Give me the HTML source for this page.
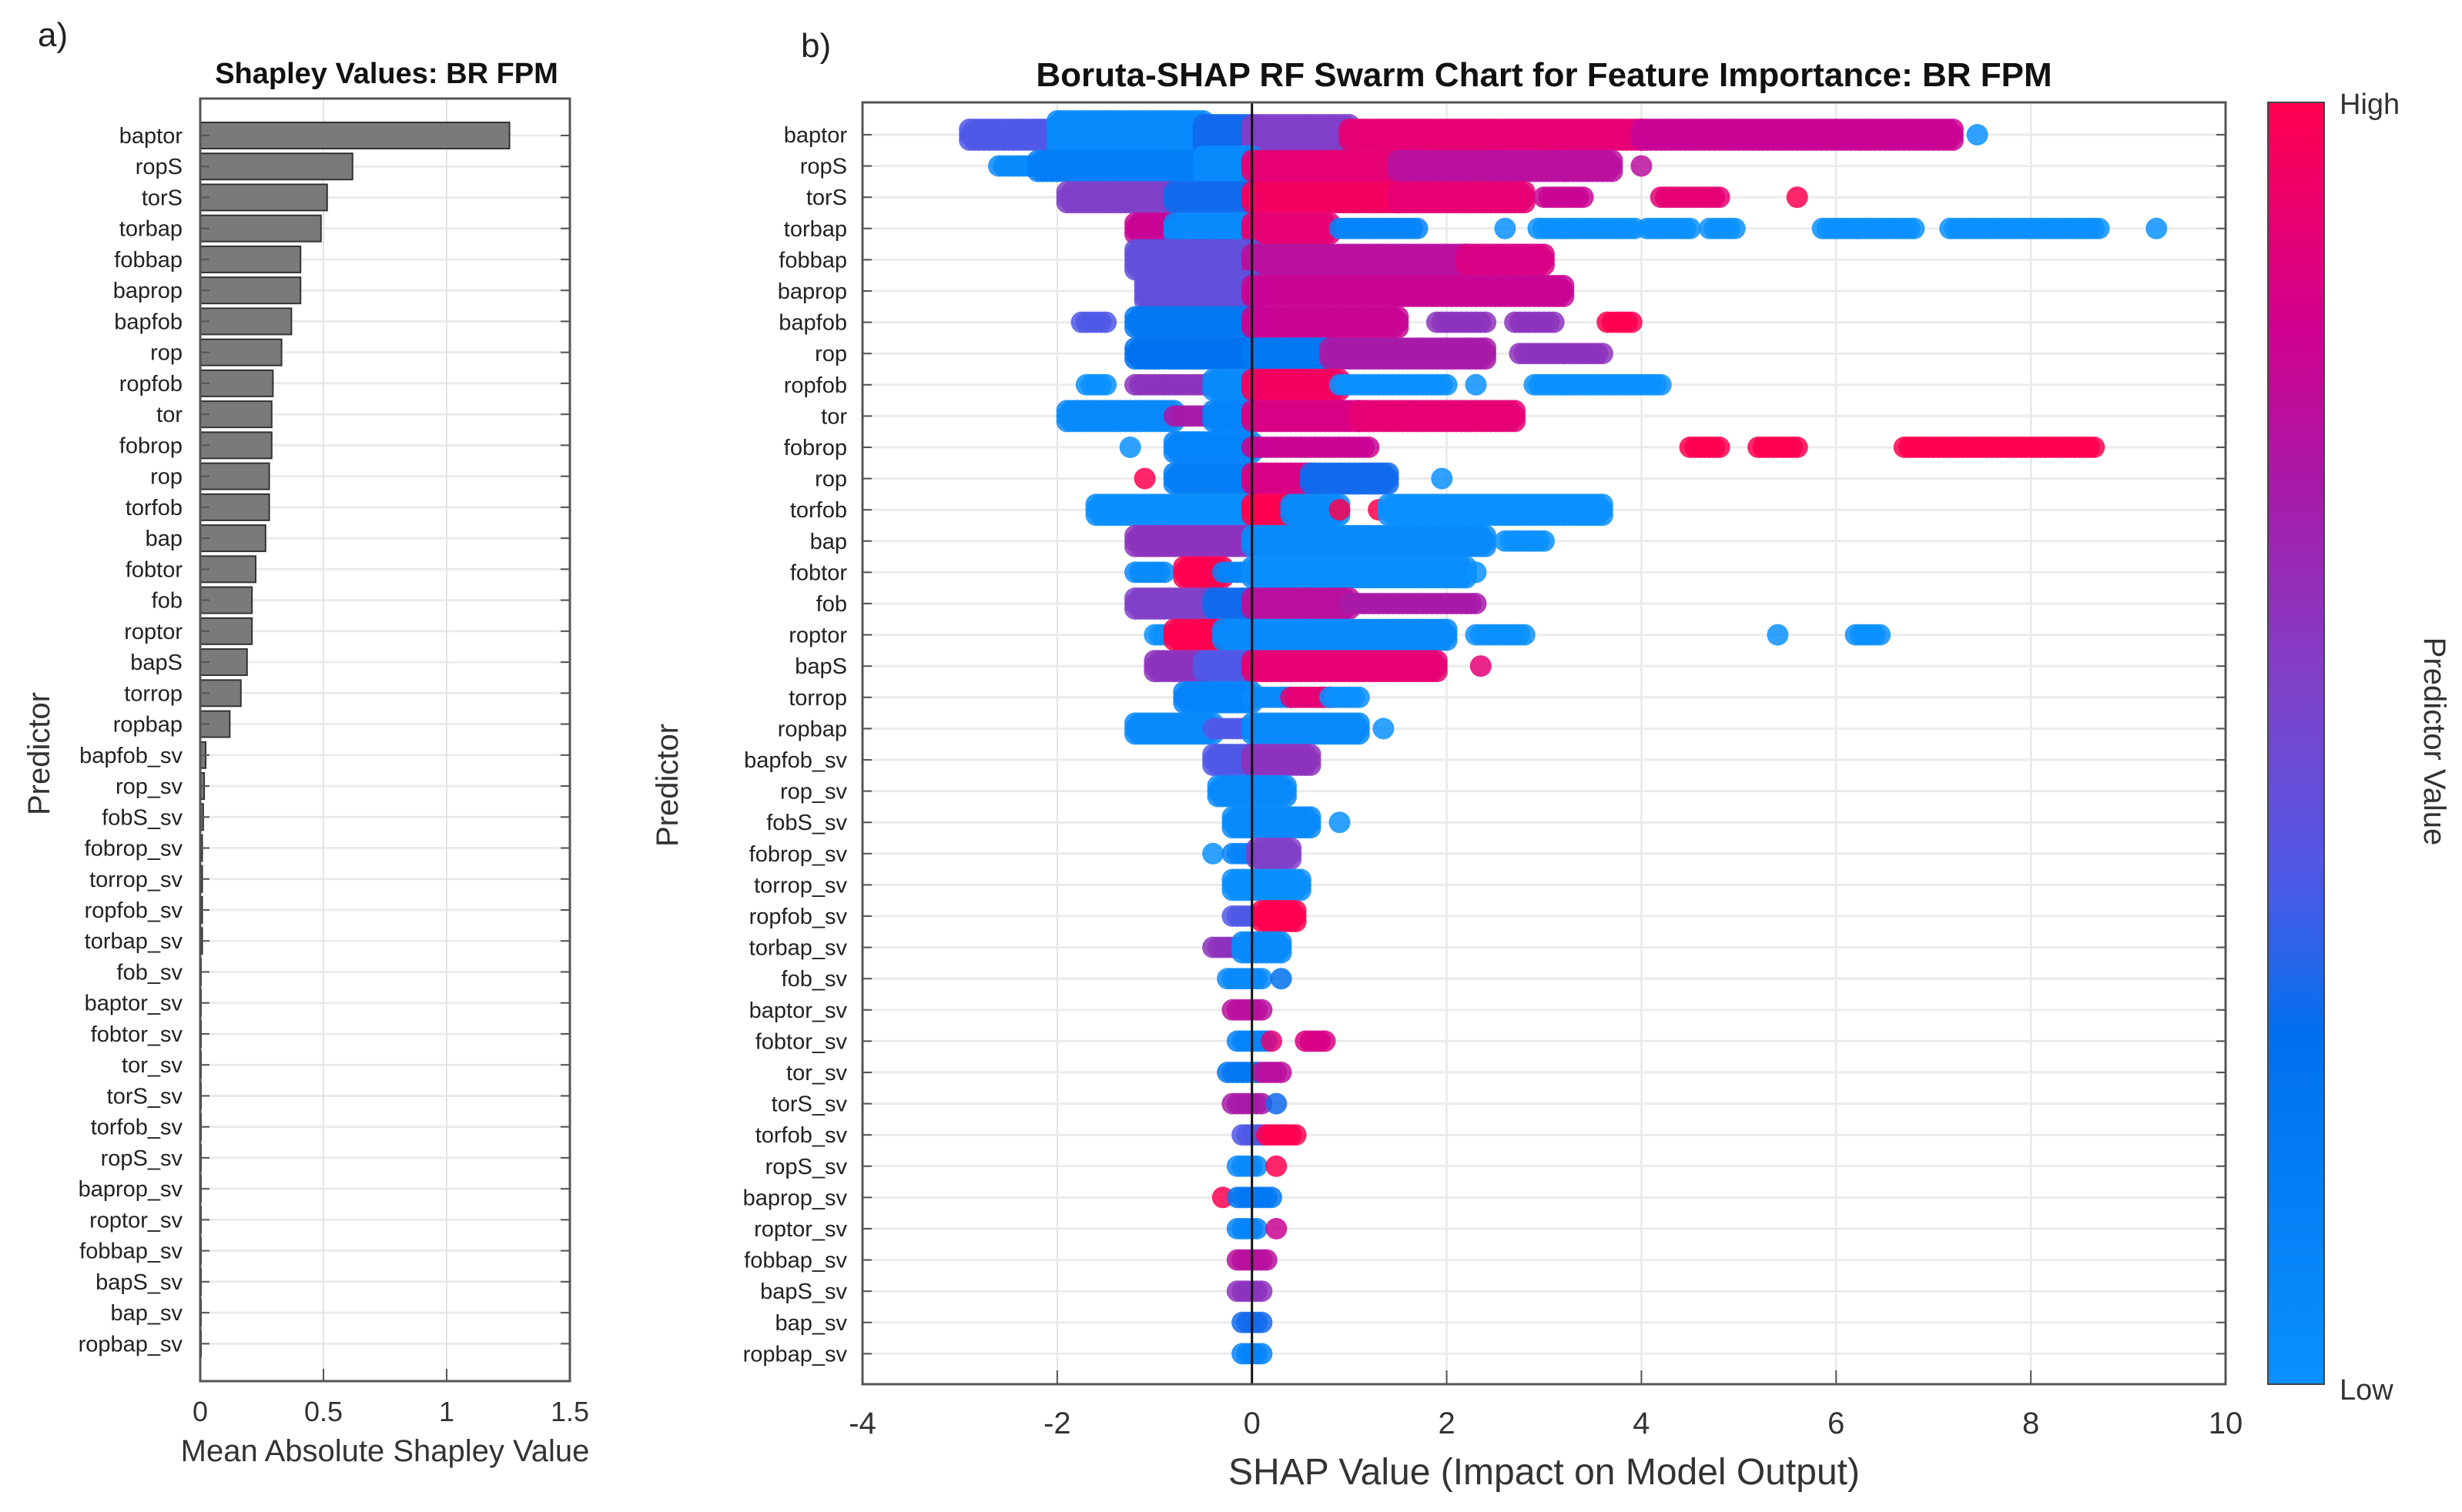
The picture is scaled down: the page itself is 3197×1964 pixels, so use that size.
<!DOCTYPE html>
<html><head><meta charset="utf-8">
<style>
html,body{margin:0;padding:0;background:#fff;}
svg{display:block;font-family:"Liberation Sans",Arial,sans-serif;}
</style></head>
<body>
<svg id="fig" width="3197" height="1964" viewBox="0 0 3197 1964" xmlns="http://www.w3.org/2000/svg">
  <defs>
    <linearGradient id="cbar" x1="0" y1="1" x2="0" y2="0">
      <stop offset="0" stop-color="#0a90ff"/>
      <stop offset="0.27" stop-color="#0070ee"/>
      <stop offset="0.40" stop-color="#5058e6"/>
      <stop offset="0.55" stop-color="#8040c8"/>
      <stop offset="0.70" stop-color="#a81aa8"/>
      <stop offset="0.82" stop-color="#d00090"/>
      <stop offset="1" stop-color="#ff0050"/>
    </linearGradient>
    <clipPath id="rclip"><rect x="1120" y="133" width="1770" height="1665"/></clipPath>
  </defs>
  <text x="49" y="60" font-size="44" fill="#222">a)</text>
  <text x="1040" y="74" font-size="44" fill="#222">b)</text>
  <text x="502" y="108" font-size="38" font-weight="bold" text-anchor="middle" fill="#111">Shapley Values: BR FPM</text>
  <text x="2005" y="112" font-size="44" font-weight="bold" text-anchor="middle" fill="#111">Boruta-SHAP RF Swarm Chart for Feature Importance: BR FPM</text>
  <g id="left"></g>
  <g id="right"></g>
  <rect x="2945" y="133" width="73" height="1665" fill="url(#cbar)" stroke="#444" stroke-width="2"/>
  <text x="3038" y="148" font-size="38" fill="#333">High</text>
  <text x="3038" y="1818" font-size="38" fill="#333">Low</text>
  <text transform="translate(3148,963) rotate(90)" font-size="40" text-anchor="middle" fill="#333">Predictor Value</text>
  <text transform="translate(64,979) rotate(-90)" font-size="40" text-anchor="middle" fill="#333">Predictor</text>
  <text transform="translate(880,1020) rotate(-90)" font-size="40" text-anchor="middle" fill="#333">Predictor</text>
  <text x="500" y="1898" font-size="40" text-anchor="middle" fill="#333">Mean Absolute Shapley Value</text>
  <text x="2005" y="1928" font-size="48" text-anchor="middle" fill="#333">SHAP Value (Impact on Model Output)</text>
</svg>
<script>
const predictors = ["baptor","ropS","torS","torbap","fobbap","baprop","bapfob","rop","ropfob","tor","fobrop","rop","torfob","bap","fobtor","fob","roptor","bapS","torrop","ropbap","bapfob_sv","rop_sv","fobS_sv","fobrop_sv","torrop_sv","ropfob_sv","torbap_sv","fob_sv","baptor_sv","fobtor_sv","tor_sv","torS_sv","torfob_sv","ropS_sv","baprop_sv","roptor_sv","fobbap_sv","bapS_sv","bap_sv","ropbap_sv"];
const meanAbsShap = [1.255,0.618,0.515,0.49,0.407,0.407,0.37,0.33,0.295,0.29,0.29,0.28,0.28,0.265,0.225,0.21,0.21,0.19,0.165,0.12,0.022,0.016,0.012,0.008,0.008,0.008,0.008,0.003,0.003,0.003,0.003,0.003,0.003,0.003,0.003,0.003,0.003,0.003,0.003,0.003];
const leftTicks = [0,0.5,1,1.5];
const leftTickLabels = ["0","0.5","1","1.5"];
const rightTicks = [-4,-2,0,2,4,6,8,10];
const rightTickLabels = ["-4","-2","0","2","4","6","8","10"];
// swarm segments per row: [shapFrom, shapTo, colorValue(0 low..1 high), density]
const swarmSegments = [
 [[-2.9,-2.0,0.4,2],[-2,-0.5,0.05,4],[-0.5,0,0.3,3],[0,1,0.55,3],[1,4,0.9,2],[4,7.2,0.8,2],[7.45,7.45,0,1]],
 [[-2.6,-2.2,0.05,1],[-2.2,-0.5,0.15,2],[-0.5,0,0.05,3],[0,1.5,0.9,2],[1.5,3.7,0.75,2],[4.0,4.0,0.75,1]],
 [[-1.9,-0.8,0.55,2],[-0.8,0,0.3,2],[0,1.5,0.95,2],[1.5,2.8,0.9,2],[3.0,3.4,0.8,1],[4.2,4.8,0.9,1],[5.6,5.6,1,1]],
 [[-1.2,-0.8,0.8,2],[-0.8,0,0.05,2],[0,0.8,0.9,2],[0.9,1.7,0.1,1],[2.6,2.6,0,1],[2.94,3.93,0,1],[4.06,4.5,0,1],[4.7,4.96,0,1],[5.86,6.8,0,1],[7.17,8.7,0,1],[9.29,9.29,0,1]],
 [[-1.2,0,0.45,3],[0,2.2,0.75,2],[2.2,3.0,0.85,2]],
 [[-1.1,0,0.45,3],[0,3.2,0.8,2]],
 [[-1.75,-1.5,0.4,1],[-1.2,0,0.2,2],[0,1.5,0.8,2],[1.9,2.4,0.6,1],[2.7,3.1,0.6,1],[3.65,3.9,1,1]],
 [[-1.2,0,0.25,2],[0,0.8,0.2,2],[0.8,2.4,0.7,2],[2.75,3.6,0.6,1]],
 [[-1.7,-1.5,0,1],[-1.2,-0.4,0.6,1],[-0.4,0,0.05,2],[0,0.9,0.95,2],[0.9,2.0,0,1],[2.3,2.3,0,1],[2.9,4.2,0,1]],
 [[-1.9,-0.8,0.05,2],[-0.8,-0.4,0.7,1],[-0.4,0,0.1,2],[0,1.1,0.85,2],[1.1,2.7,0.9,2]],
 [[-1.25,-1.25,0,1],[-0.8,0,0.1,2],[0,1.2,0.8,1],[4.5,4.8,1,1],[5.2,5.6,1,1],[6.7,8.65,1,1]],
 [[-1.1,-1.1,1,1],[-0.8,0,0.15,2],[0,0.6,0.85,2],[0.6,1.4,0.3,2],[1.95,1.95,0,1]],
 [[-1.6,0,0.02,2],[0,0.4,1,2],[0.4,0.9,0.05,2],[0.9,0.9,1,1],[1.3,1.3,1,1],[1.4,3.6,0,2]],
 [[-1.2,0,0.6,2],[0,2.4,0.05,2],[2.6,3.0,0,1]],
 [[-1.2,-0.9,0.05,1],[-0.7,-0.3,1,2],[-0.3,0,0.1,1],[0,2.2,0.03,2],[2.3,2.3,0,1]],
 [[-1.2,-0.4,0.55,2],[-0.4,0,0.3,2],[0,1.0,0.75,2],[1.0,2.3,0.7,1]],
 [[-1.0,-0.8,0,1],[-0.8,-0.3,1,2],[-0.3,0,0.05,2],[0,2.0,0.05,2],[2.3,2.8,0,1],[5.4,5.4,0,1],[6.2,6.45,0,1]],
 [[-1.0,-0.5,0.6,2],[-0.5,0,0.4,2],[0,1.9,0.9,2],[2.35,2.35,0.9,1]],
 [[-0.7,0,0.1,2],[0,0.4,0.05,1],[0.4,0.8,0.9,1],[0.8,1.1,0,1]],
 [[-1.2,-0.4,0.05,2],[-0.4,0,0.4,1],[0,1.1,0.05,2],[1.35,1.35,0,1]],
 [[-0.4,0,0.4,2],[0,0.6,0.6,2]],
 [[-0.35,0.35,0.05,2]],
 [[-0.2,0.6,0.05,2],[0.9,0.9,0,1]],
 [[-0.4,-0.4,0,1],[-0.2,0.05,0.1,1],[0.05,0.4,0.55,2]],
 [[-0.2,0.5,0.02,2]],
 [[-0.2,0.05,0.4,1],[0.1,0.45,1,2]],
 [[-0.4,-0.1,0.6,1],[-0.1,0.3,0.05,2]],
 [[-0.25,0.1,0.05,1],[0.3,0.3,0.25,1]],
 [[-0.2,0.1,0.75,1]],
 [[-0.15,0.15,0.1,1],[0.2,0.2,0.9,1],[0.55,0.75,0.85,1]],
 [[-0.25,0.05,0.2,1],[0.1,0.3,0.75,1]],
 [[-0.2,0.1,0.7,1],[0.25,0.25,0.3,1]],
 [[-0.1,0.1,0.4,1],[0.15,0.45,1,1]],
 [[-0.15,0.05,0.05,1],[0.25,0.25,1,1]],
 [[-0.3,-0.3,1,1],[-0.15,0.2,0.2,1]],
 [[-0.15,0.05,0.1,1],[0.25,0.25,0.8,1]],
 [[-0.15,0.15,0.75,1]],
 [[-0.15,0.1,0.6,1]],
 [[-0.1,0.1,0.3,1]],
 [[-0.1,0.1,0.1,1]]
];

const NS = "http://www.w3.org/2000/svg";
function mk(tag, attrs, parent){const e=document.createElementNS(NS,tag);for(const k in attrs)e.setAttribute(k,attrs[k]);parent.appendChild(e);return e;}

// ---- left bar chart ----
const L = {x0:260, x1:740, y0:128, y1:1794, row0:176, step:40.24, max:1.5};
const lx = v => L.x0 + (v/L.max)*(L.x1-L.x0);
const ly = i => L.row0 + i*L.step;
const left = document.getElementById('left');
predictors.forEach((p,i)=>{
  const g = mk('line',{x1:L.x0,x2:L.x1,y1:ly(i),y2:ly(i),stroke:'#ebebeb','stroke-width':3},left);
  
  
});
leftTicks.forEach((t,k)=>{
  if(t>0 && t<L.max){
    const gl = mk('line',{x1:lx(t),x2:lx(t),y1:L.y0,y2:L.y1,stroke:'#e4e4e4','stroke-width':2},left);
    
    
  }
  const tm = mk('line',{x1:lx(t),x2:lx(t),y1:L.y1,y2:L.y1-16,stroke:'#555','stroke-width':2},left);
  
  
  const tl = mk('text',{x:lx(t),y:1846,'font-size':36,'text-anchor':'middle',fill:'#333'},left);
  tl.textContent = leftTickLabels[k];
  
  
});
predictors.forEach((p,i)=>{
  const w = Math.max(lx(meanAbsShap[i])-L.x0,1);
  const b = mk('rect',{x:L.x0,y:ly(i)-17,width:w,height:34,fill:'#7a7a7a',stroke:'#333','stroke-width':2},left);
  
  
  const t = mk('text',{x:237,y:ly(i)+10,'font-size':29,'text-anchor':'end',fill:'#222'},left);
  t.textContent = p;
  
  
  [L.x0, L.x1].forEach(xx=>{
    const tk = mk('line',{x1:xx,x2:xx+(xx===L.x0?12:-12),y1:ly(i),y2:ly(i),stroke:'#555','stroke-width':2},left);
    
    
  });
});
const lf = mk('rect',{x:L.x0,y:L.y0,width:L.x1-L.x0,height:L.y1-L.y0,fill:'none',stroke:'#555','stroke-width':3},left);



// ---- right swarm chart ----
const R = {x0:1120, x1:2890, y0:133, y1:1798, row0:175, step:40.6, min:-4, max:10};
const rx = v => R.x0 + (v-R.min)/(R.max-R.min)*(R.x1-R.x0);
const ry = i => R.row0 + i*R.step;
const right = document.getElementById('right');
rightTicks.forEach((t,k)=>{
  if(t>R.min && t<R.max){
    const gl = mk('line',{x1:rx(t),x2:rx(t),y1:R.y0,y2:R.y1,stroke:'#e4e4e4','stroke-width':2},right);
    
    
  }
  const tm = mk('line',{x1:rx(t),x2:rx(t),y1:R.y1,y2:R.y1-18,stroke:'#555','stroke-width':2},right);
  
  
  const tl = mk('text',{x:rx(t),y:1862,'font-size':40,'text-anchor':'middle',fill:'#333'},right);
  tl.textContent = rightTickLabels[k];
  
  
});
predictors.forEach((p,i)=>{
  const g = mk('line',{x1:R.x0,x2:R.x1,y1:ry(i),y2:ry(i),stroke:'#ebebeb','stroke-width':3},right);
  
  
  const t = mk('text',{x:1100,y:ry(i)+10,'font-size':29,'text-anchor':'end',fill:'#222'},right);
  t.textContent = p;
  
  
  [R.x0, R.x1].forEach(xx=>{
    const tk = mk('line',{x1:xx,x2:xx+(xx===R.x0?12:-12),y1:ry(i),y2:ry(i),stroke:'#555','stroke-width':2},right);
    
    
  });
});
const stops=[[0,[10,144,255]],[0.27,[0,112,238]],[0.40,[80,88,230]],[0.55,[128,64,200]],[0.70,[168,26,168]],[0.82,[208,0,144]],[1,[255,0,80]]];
function cmap(c){
  for(let k=1;k<stops.length;k++){
    if(c<=stops[k][0]){const a=stops[k-1],b=stops[k];const f=(c-a[0])/(b[0]-a[0]);
      const col=a[1].map((v,j)=>Math.round(v+(b[1][j]-v)*f));return 'rgb('+col.join(',')+')';}
  }
  return 'rgb(255,0,80)';
}
const dots = mk('g',{'clip-path':'url(#rclip)'},right);


const layerOff = [0,-7,7,-13,13,-18,18];
swarmSegments.forEach((segs,i)=>{
  const rowG = mk('g',{},dots);
  
  
  segs.forEach(s=>{
    const [a,b,c,dens]=s;
    const n = Math.max(1, Math.round((b-a)/0.05)+1);
    const col = cmap(c);
    const layers = Math.min(dens*2-1, layerOff.length);
    for(let L2=0;L2<layers;L2++){
      for(let k=0;k<n;k++){
        const v = n===1 ? a : a+(b-a)*k/(n-1);
        const ci = mk('circle',{cx:rx(v).toFixed(1),cy:(ry(i)+layerOff[L2]).toFixed(1),r:14,fill:col,'fill-opacity':0.85},rowG);
      }
    }
  });
});
const zl = mk('line',{x1:rx(0),x2:rx(0),y1:R.y0,y2:R.y1,stroke:'#111','stroke-width':3},right);


const rf = mk('rect',{x:R.x0,y:R.y0,width:R.x1-R.x0,height:R.y1-R.y0,fill:'none',stroke:'#555','stroke-width':3},right);


</script>
</body></html>
